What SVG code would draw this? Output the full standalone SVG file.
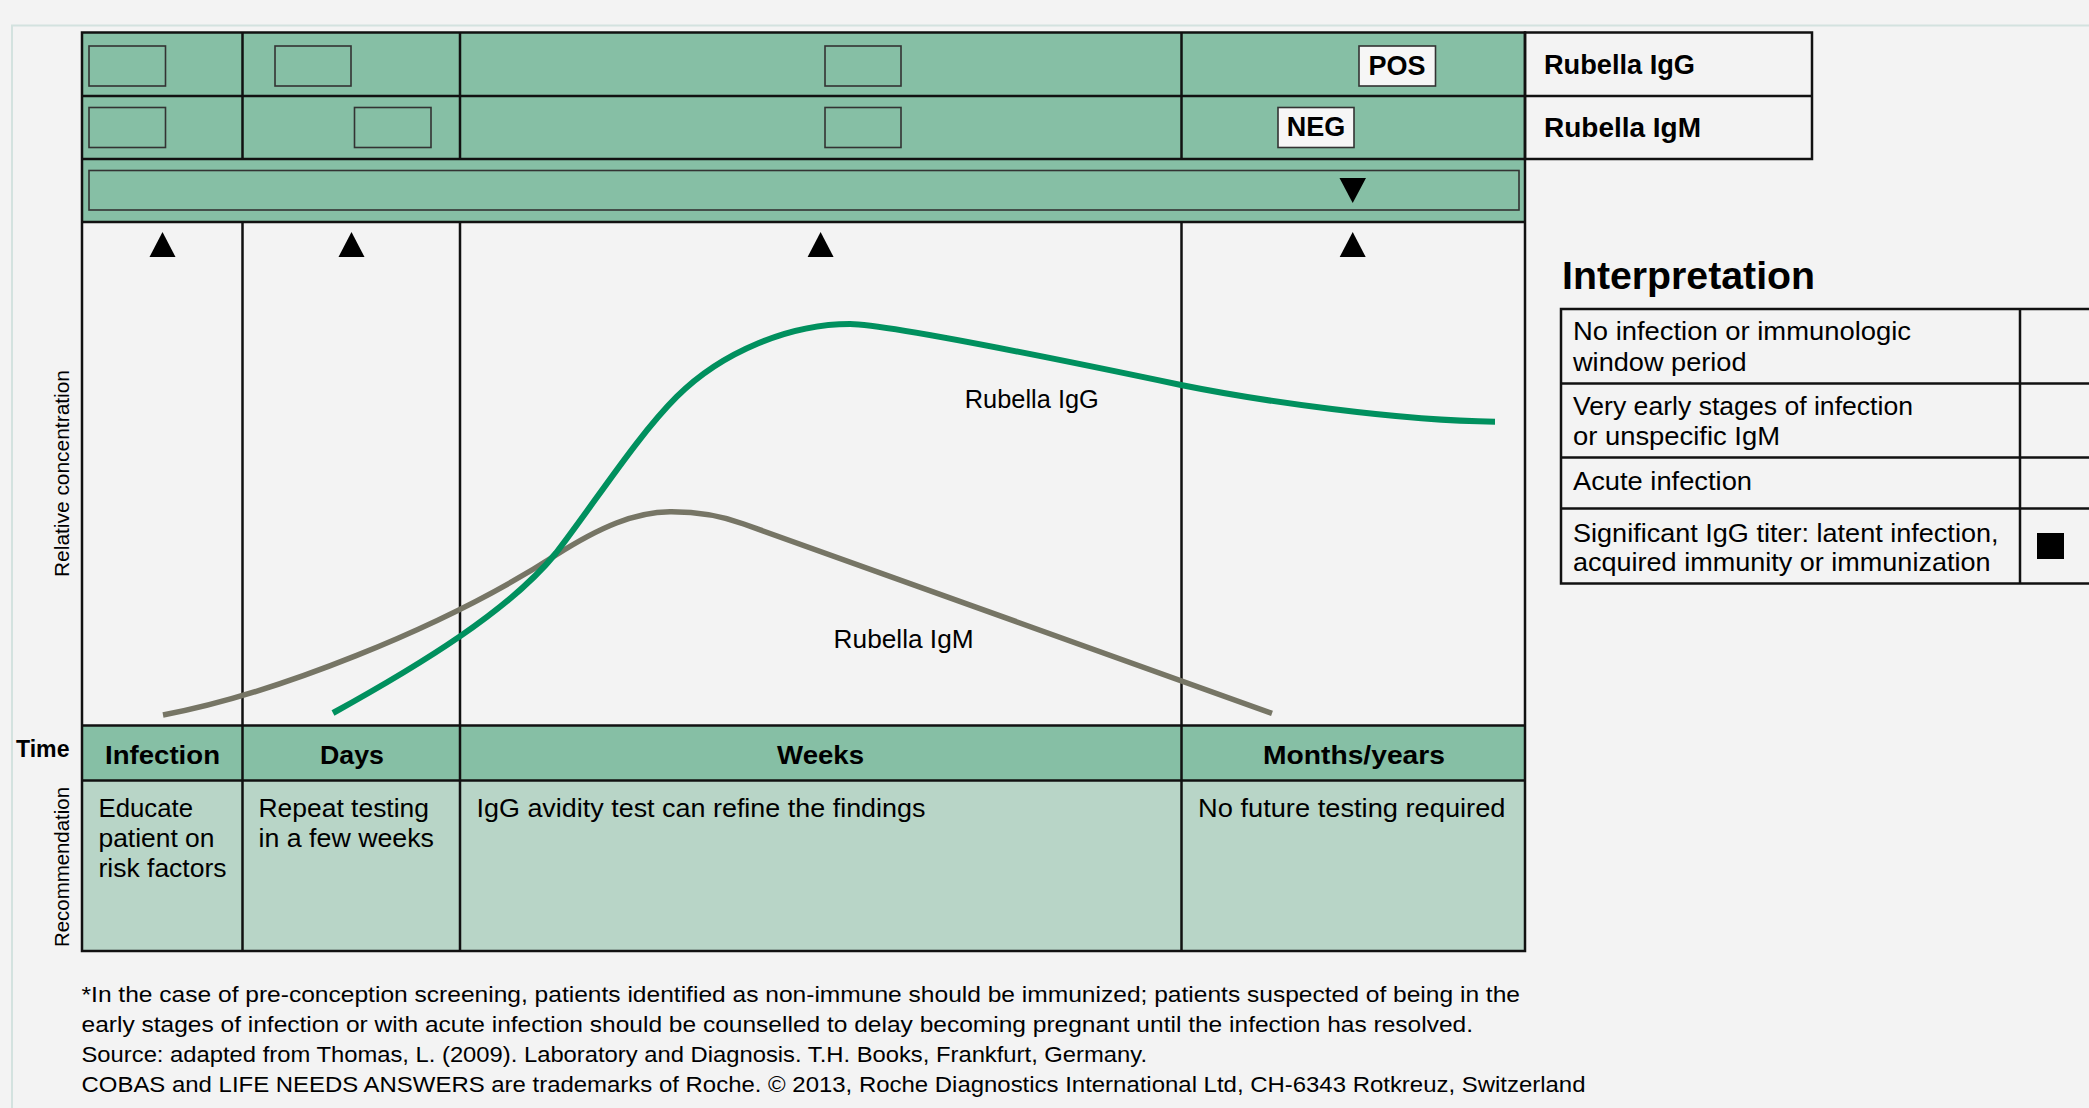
<svg xmlns="http://www.w3.org/2000/svg" width="2089" height="1108" viewBox="0 0 2089 1108">
<style>
text{font-family:"Liberation Sans",Arial,sans-serif;fill:#000}
.b{font-weight:bold}
.grid{stroke:#111;stroke-width:2.5;fill:none}
.box{fill:none;stroke:#333;stroke-width:1.6}
.wbox{fill:#F6F6F6;stroke:#333;stroke-width:1.6}
.g{fill:#86BFA5}
.lg{fill:#B8D5C7}
.body{font-size:26px}
.hd{font-size:26px;font-weight:bold}
.tri{fill:#000}
.leg{stroke:#111;stroke-width:2.5;fill:none}
.foot{font-size:22px}
</style>
<rect x="0" y="0" width="2089" height="1108" fill="#F3F3F3"/>
<path d="M12,1108 V25.5 H2089" fill="none" stroke="#D3E2DF" stroke-width="2"/>

<g id="status-rows">
  <rect class="g" x="82" y="32.5" width="1443" height="189.5"/>
  <rect class="box" x="89" y="46" width="76.5" height="40"/>
  <rect class="box" x="275" y="46" width="76" height="40"/>
  <rect class="box" x="825" y="46" width="76" height="40"/>
  <rect class="wbox" x="1359" y="46" width="76.5" height="40"/>
  <text class="b" x="1397" y="75" font-size="27" text-anchor="middle">POS</text>
  <rect class="box" x="89" y="107.5" width="76.5" height="40"/>
  <rect class="box" x="354.5" y="107.5" width="76.5" height="40"/>
  <rect class="box" x="825" y="107.5" width="76" height="40"/>
  <rect class="wbox" x="1278" y="107.5" width="76" height="40"/>
  <text class="b" x="1316" y="136" font-size="27" text-anchor="middle">NEG</text>
  <rect class="box" x="89" y="170.5" width="1430" height="39.5"/>
  <polygon class="tri" points="1339.5,178 1366,178 1352.7,203"/>
</g>

<g id="legend-top">
  <rect class="leg" x="1525" y="32.5" width="287" height="126.5"/>
  <line class="leg" x1="1525" y1="96" x2="1812" y2="96"/>
  <text class="b" x="1544" y="73.5" font-size="27" textLength="151" lengthAdjust="spacingAndGlyphs">Rubella IgG</text>
  <text class="b" x="1544" y="136.5" font-size="27" textLength="157" lengthAdjust="spacingAndGlyphs">Rubella IgM</text>
</g>

<g id="time-row">
  <rect class="g" x="82" y="725.5" width="1443" height="55"/>
  <text class="hd" x="162.5" y="764" text-anchor="middle" textLength="115" lengthAdjust="spacingAndGlyphs">Infection</text>
  <text class="hd" x="352" y="764" text-anchor="middle" textLength="64" lengthAdjust="spacingAndGlyphs">Days</text>
  <text class="hd" x="820.6" y="764" text-anchor="middle" textLength="87" lengthAdjust="spacingAndGlyphs">Weeks</text>
  <text class="hd" x="1354" y="764" text-anchor="middle" textLength="182" lengthAdjust="spacingAndGlyphs">Months/years</text>
</g>

<g id="recommendation-row">
  <rect class="lg" x="82" y="780.5" width="1443" height="170.5"/>
  <text class="body" x="98.5" y="817" textLength="94.5" lengthAdjust="spacingAndGlyphs">Educate</text>
  <text class="body" x="98.5" y="847" textLength="116" lengthAdjust="spacingAndGlyphs">patient on</text>
  <text class="body" x="98.5" y="877" textLength="128" lengthAdjust="spacingAndGlyphs">risk factors</text>
  <text class="body" x="258.5" y="817" textLength="170.5" lengthAdjust="spacingAndGlyphs">Repeat testing</text>
  <text class="body" x="258.5" y="847" textLength="175.5" lengthAdjust="spacingAndGlyphs">in a few weeks</text>
  <text class="body" x="476.5" y="817" textLength="449" lengthAdjust="spacingAndGlyphs">IgG avidity test can refine the findings</text>
  <text class="body" x="1198" y="817" textLength="307.5" lengthAdjust="spacingAndGlyphs">No future testing required</text>
</g>

<g id="grid">
  <rect class="grid" x="82" y="32.5" width="1443" height="918.5"/>
  <line class="grid" x1="82" y1="96" x2="1525" y2="96"/>
  <line class="grid" x1="82" y1="159" x2="1525" y2="159"/>
  <line class="grid" x1="82" y1="222" x2="1525" y2="222"/>
  <line class="grid" x1="82" y1="725.5" x2="1525" y2="725.5"/>
  <line class="grid" x1="82" y1="780.5" x2="1525" y2="780.5"/>
  <path class="grid" d="M242.5,32.5 V159 M460,32.5 V159 M1181.5,32.5 V159 M242.5,222 V951 M460,222 V951 M1181.5,222 V951" stroke-width="2"/>
</g>

<g id="markers">
  <polygon class="tri" points="162.5,232 149.5,257 175.5,257"/>
  <polygon class="tri" points="351.5,232 338.5,257 364.5,257"/>
  <polygon class="tri" points="820.6,232 807.6,257 833.6,257"/>
  <polygon class="tri" points="1352.7,232 1339.7,257 1365.7,257"/>
</g>

<g id="curves">
  <path id="igm" d="M163,715 C270,695 440,630 556,555 C600,527 635,512 670,511.7 C700,511.5 725,517 743.7,524 L1272,713.3" fill="none" stroke="#767565" stroke-width="5.5"/>
  <path id="igg" d="M333,713 C420,665 510,610 556,553 C596,501 636.8,436.7 676.8,396.7 C721.8,351.7 790,324 850,324 C890,324 1100,368 1181,385 C1260,401 1400,421 1495,421.7" fill="none" stroke="#00905E" stroke-width="6"/>
  <text class="body" x="964.8" y="407.5" font-size="25" textLength="134" lengthAdjust="spacingAndGlyphs">Rubella IgG</text>
  <text class="body" x="833.6" y="647.7" font-size="25" textLength="140" lengthAdjust="spacingAndGlyphs">Rubella IgM</text>
</g>

<g id="axis-labels">
  <text class="b" x="16" y="757" font-size="23" textLength="53.5" lengthAdjust="spacingAndGlyphs">Time</text>
  <text transform="translate(69,473.5) rotate(-90)" font-size="20.5" text-anchor="middle" textLength="207" lengthAdjust="spacingAndGlyphs">Relative concentration</text>
  <text transform="translate(69,867) rotate(-90)" font-size="20.5" text-anchor="middle" textLength="160" lengthAdjust="spacingAndGlyphs">Recommendation</text>
</g>

<g id="interpretation">
  <text class="b" x="1562" y="288.5" font-size="38" textLength="253" lengthAdjust="spacingAndGlyphs">Interpretation</text>
  <rect class="leg" x="1561" y="309" width="560" height="274.5"/>
  <line class="leg" x1="2020" y1="309" x2="2020" y2="583.5"/>
  <line class="leg" x1="1561" y1="383.5" x2="2089" y2="383.5"/>
  <line class="leg" x1="1561" y1="457.5" x2="2089" y2="457.5"/>
  <line class="leg" x1="1561" y1="508.5" x2="2089" y2="508.5"/>
  <text class="body" x="1573" y="340" textLength="338" lengthAdjust="spacingAndGlyphs">No infection or immunologic</text>
  <text class="body" x="1573" y="370.5" textLength="173.5" lengthAdjust="spacingAndGlyphs">window period</text>
  <text class="body" x="1573" y="415" textLength="340" lengthAdjust="spacingAndGlyphs">Very early stages of infection</text>
  <text class="body" x="1573" y="445" textLength="207" lengthAdjust="spacingAndGlyphs">or unspecific IgM</text>
  <text class="body" x="1573" y="489.5" textLength="179" lengthAdjust="spacingAndGlyphs">Acute infection</text>
  <text class="body" x="1573" y="541.5" textLength="425.5" lengthAdjust="spacingAndGlyphs">Significant IgG titer: latent infection,</text>
  <text class="body" x="1573" y="571" textLength="417.5" lengthAdjust="spacingAndGlyphs">acquired immunity or immunization</text>
  <rect x="2037" y="533" width="27" height="26" fill="#000"/>
</g>

<g id="footnote">
  <text class="foot" x="81.5" y="1002" textLength="1438.5" lengthAdjust="spacingAndGlyphs">*In the case of pre-conception screening, patients identified as non-immune should be immunized; patients suspected of being in the</text>
  <text class="foot" x="81.5" y="1032" textLength="1391.5" lengthAdjust="spacingAndGlyphs">early stages of infection or with acute infection should be counselled to delay becoming pregnant until the infection has resolved.</text>
  <text class="foot" x="81.5" y="1062" textLength="1065.5" lengthAdjust="spacingAndGlyphs">Source: adapted from Thomas, L. (2009). Laboratory and Diagnosis. T.H. Books, Frankfurt, Germany.</text>
  <text class="foot" x="81.5" y="1092" textLength="1504" lengthAdjust="spacingAndGlyphs">COBAS and LIFE NEEDS ANSWERS are trademarks of Roche. © 2013, Roche Diagnostics International Ltd, CH-6343 Rotkreuz, Switzerland</text>
</g>
</svg>
